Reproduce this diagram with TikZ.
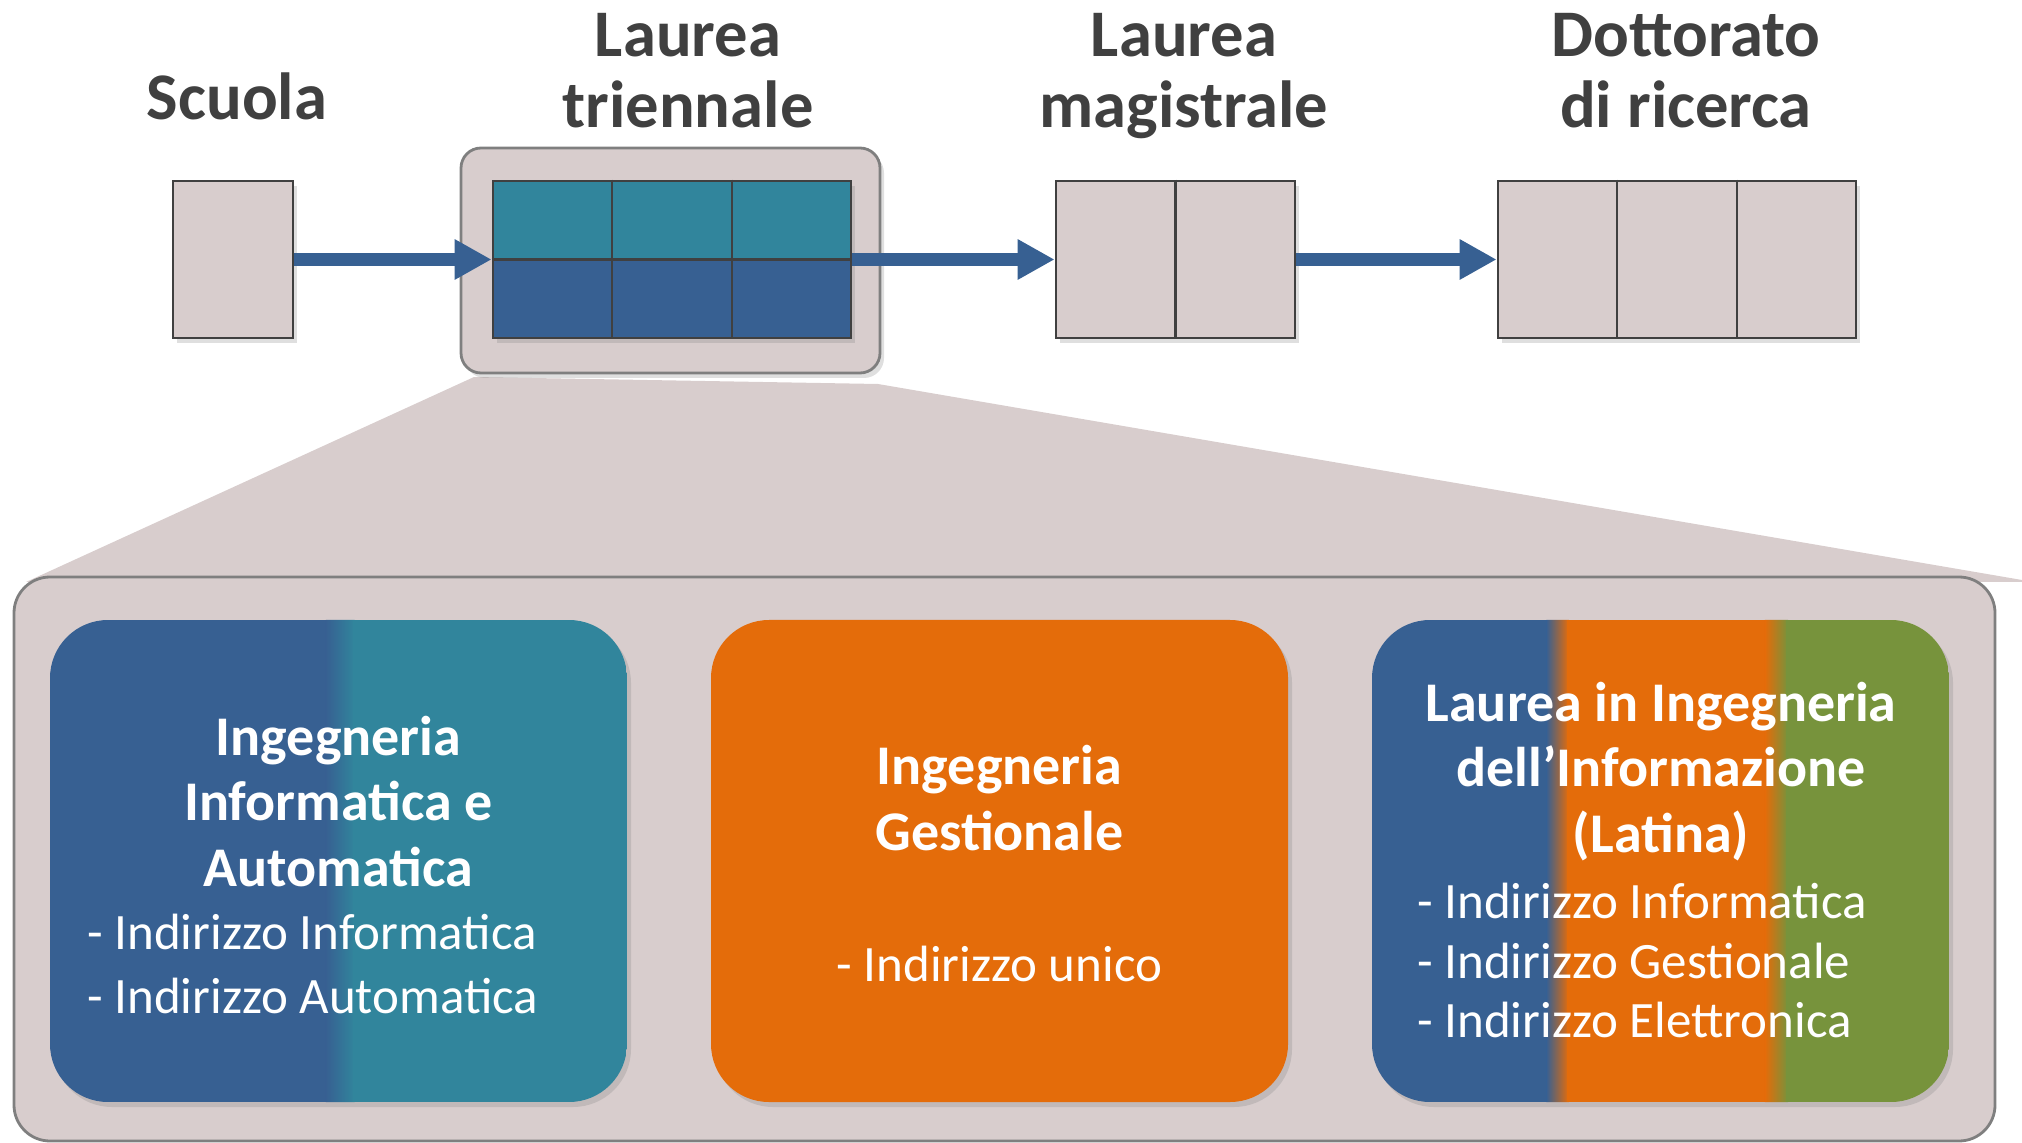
\documentclass[tikz,border=0pt]{standalone}
\usepackage{fontspec}
\setmainfont{Carlito}
\usetikzlibrary{arrows.meta,calc,shadows}
\definecolor{blueC}{RGB}{55,96,146}
\definecolor{tealC}{RGB}{49,133,156}
\definecolor{orangeC}{RGB}{228,108,10}
\definecolor{greenC}{RGB}{119,147,60}
\definecolor{panelC}{RGB}{216,205,205}
\definecolor{darkC}{RGB}{64,64,64}
\definecolor{rimC}{RGB}{127,127,127}
\begin{document}
\begin{tikzpicture}[x=0.5pt,y=-0.5pt,
  head/.style={font=\bfseries\fontsize{33.3}{36}\selectfont, text=darkC, anchor=base, inner sep=0pt},
  ttl/.style={font=\bfseries\fontsize{28}{30}\selectfont, text=white, anchor=base, inner sep=0pt},
  itm/.style={font=\fontsize{25.5}{27}\selectfont, text=white, inner sep=0pt},
  softshadow/.style={drop shadow={shadow xshift=2pt, shadow yshift=-2.5pt, opacity=0.25}},
  cellbox/.style={draw=darkC, line width=1.4pt, minimum height=78.5pt, inner sep=0pt, softshadow},
  divider/.style={draw=darkC, line width=1.2pt},
  flow/.style={draw=blueC, line width=6.5pt, -{Triangle[length=18.5pt,width=19pt]}},
  prog/.style={minimum width=288.5pt, minimum height=241pt, rounded corners=29pt, inner sep=0pt, softshadow},
  frame/.style={draw=rimC, fill=panelC, line width=1.4pt, inner sep=0pt},
]
\useasboundingbox (0,0) rectangle (2022,1143);

% zoom wedge
\fill[panelC] (474,377) -- (878,384) -- (2022,580) -- (2022,582) -- (26,582) -- cycle;

% large panel
\node[frame, rounded corners=18pt, minimum width=990.5pt, minimum height=282pt] (panel) at (1004.5,859) {};

% frame around triennale
\node[frame, rounded corners=10pt, minimum width=209.5pt, minimum height=112.5pt, softshadow] (triframe) at (670.5,260.5) {};

% top boxes
\node[cellbox, fill=panelC, minimum width=60pt] (scuola) at (233,259.5) {};
\node[cellbox, minimum width=179pt,
  path picture={
    \fill[tealC, sharp corners] (path picture bounding box.north west) rectangle (path picture bounding box.east);
    \fill[blueC, sharp corners] (path picture bounding box.west) rectangle (path picture bounding box.south east);
  }] (tri) at (672,259.5) {};
\node[cellbox, fill=panelC, minimum width=119.5pt] (mag) at (1175.5,259.5) {};
\node[cellbox, fill=panelC, minimum width=179pt] (dot) at (1677,259.5) {};

% dividers
\draw[divider] (tri.west) -- (tri.east);
\draw[divider] ($(tri.north west)!1/3!(tri.north east)$) -- ($(tri.south west)!1/3!(tri.south east)$);
\draw[divider] ($(tri.north west)!2/3!(tri.north east)$) -- ($(tri.south west)!2/3!(tri.south east)$);
\draw[divider] (mag.north) -- (mag.south);
\draw[divider] ($(dot.north west)!1/3!(dot.north east)$) -- ($(dot.south west)!1/3!(dot.south east)$);
\draw[divider] ($(dot.north west)!2/3!(dot.north east)$) -- ($(dot.south west)!2/3!(dot.south east)$);

% arrows
\draw[flow] (scuola) -- (tri);
\draw[flow] (tri) -- (mag);
\draw[flow] (mag) -- (dot);

% headings
\node[head] (hs) at (237,120) {Scuola};
\node[head] (ht1) at (688,57) {Laurea};
\node[head] (ht2) at (688,128) {triennale};
\node[head] (hm1) at (1184,57) {Laurea};
\node[head] (hm2) at (1184,128) {magistrale};
\node[head] (hd1) at (1686,57) {Dottorato};
\node[head] (hd2) at (1686,128) {di ricerca};

% programme boxes
\node[prog, path picture={
    \begin{scope}[sharp corners]
    \coordinate (pa) at (path picture bounding box.south west);
    \coordinate (pb) at (path picture bounding box.north east);
    \fill[blueC] (pa) rectangle ($(pa|-pb)!0.482!(pb)$);
    \shade[left color=blueC, right color=tealC] ($(pa)!0.478!(pa-|pb)$) rectangle ($(pa|-pb)!0.528!(pb)$);
    \fill[tealC] ($(pa)!0.525!(pa-|pb)$) rectangle (pb);
    \end{scope}
  }] (ia) at (338.5,861) {};
\node[prog, fill=orangeC] (ig) at (999.5,861) {};
\node[prog, path picture={
    \begin{scope}[sharp corners]
    \coordinate (pa) at (path picture bounding box.south west);
    \coordinate (pb) at (path picture bounding box.north east);
    \fill[blueC] (pa) rectangle ($(pa|-pb)!0.305!(pb)$);
    \shade[left color=blueC, right color=orangeC] ($(pa)!0.302!(pa-|pb)$) rectangle ($(pa|-pb)!0.341!(pb)$);
    \fill[orangeC] ($(pa)!0.338!(pa-|pb)$) rectangle ($(pa|-pb)!0.684!(pb)$);
    \shade[left color=orangeC, right color=greenC] ($(pa)!0.681!(pa-|pb)$) rectangle ($(pa|-pb)!0.721!(pb)$);
    \fill[greenC] ($(pa)!0.718!(pa-|pb)$) rectangle (pb);
    \end{scope}
  }] (li) at (1660.5,861) {};

% texts box 1
\node[ttl] (ia1) at (338.5,755) {Ingegneria};
\node[ttl] (ia2) at (338.5,820) {Informatica e};
\node[ttl] (ia3) at (338.5,886) {Automatica};
\node[itm, anchor=base west] (ia4) at (87,949) {- Indirizzo Informatica};
\node[itm, anchor=base west] (ia5) at (87,1013) {- Indirizzo Automatica};

% texts box 2
\node[ttl] (ig1) at (999.5,784) {Ingegneria};
\node[ttl] (ig2) at (999.5,850) {Gestionale};
\node[itm, anchor=base] (ig3) at (999.5,981) {- Indirizzo unico};

% texts box 3
\node[ttl] (li1) at (1661,721) {Laurea in Ingegneria};
\node[ttl] (li2) at (1661,786) {dell’Informazione};
\node[ttl] (li3) at (1661,852) {(Latina)};
\node[itm, anchor=base west] (li4) at (1417,918) {- Indirizzo Informatica};
\node[itm, anchor=base west] (li5) at (1417,978) {- Indirizzo Gestionale};
\node[itm, anchor=base west] (li6) at (1417,1037) {- Indirizzo Elettronica};
\end{tikzpicture}
\end{document}
